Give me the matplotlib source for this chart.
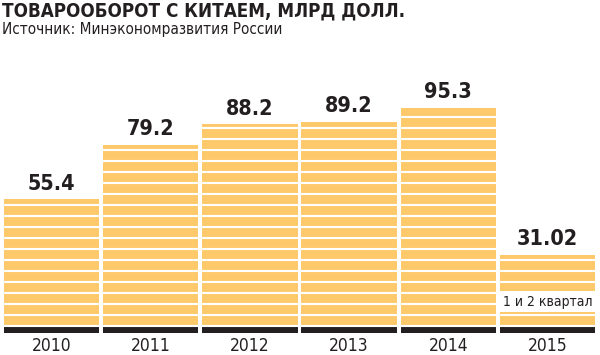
import numpy as np
import matplotlib.pyplot as plt

years = ["2010", "2011", "2012", "2013", "2014", "2015"]
values = [55.4, 79.2, 88.2, 89.2, 95.3, 31.02]
value_labels = ["55.4", "79.2", "88.2", "89.2", "95.3", "31.02"]
note = "1 и 2 квартал"

title = "ТОВАРООБОРОТ С КИТАЕМ, МЛРД ДОЛЛ."
source = "Источник: Минэкономразвития России"

yellow = "#FDC96B"
dark = "#231F20"

plt.rcParams['font.family'] = ['DejaVu Sans']
plt.rcParams['font.stretch'] = 'condensed'

fig = plt.figure(figsize=(6, 3.55), dpi=100)
ax = fig.add_axes([2/600, 1-334/355, 595/600, (334-60)/355])
x = np.arange(len(years))

ax.bar(x, values, width=0.96, color=yellow, linewidth=0, zorder=1)
# black base strip under each bar
ax.bar(x, [2.6]*len(x), bottom=-3.0, width=0.96, color=dark, linewidth=0, zorder=1)

# white horizontal stripes across the bars
step = 4.8
for k in range(0, 25):
    ax.axhline(k*step, color="white", lw=1.5, zorder=2)

for i, (v, lab) in enumerate(zip(values, value_labels)):
    ax.annotate(lab, (i, v), xytext=(0, 4), textcoords="offset points",
                ha="center", va="bottom", fontsize=15.5, fontweight="bold",
                color=dark, zorder=4)

ax.text(5, 10.5, note, ha="center", va="center", fontsize=10, color=dark, zorder=4,
        bbox=dict(boxstyle="square,pad=0.25", fc="white", ec="none"))

ax.set_xlim(-0.5, 5.5)
ax.set_ylim(-3.5, 116.2)
ax.set_xticks(x)
ax.set_xticklabels(years, fontsize=12.5, color=dark)
ax.tick_params(axis="x", length=0, pad=2)
ax.set_yticks([])
for s in ax.spines.values():
    s.set_visible(False)

fig.text(2/600, 1-1/355, title, ha="left", va="top", fontsize=13.5, fontweight="bold",
         color=dark)
fig.text(2/600, 1-22/355, source, ha="left", va="top", fontsize=11, color=dark)

fig.savefig("out.png", dpi=100)
